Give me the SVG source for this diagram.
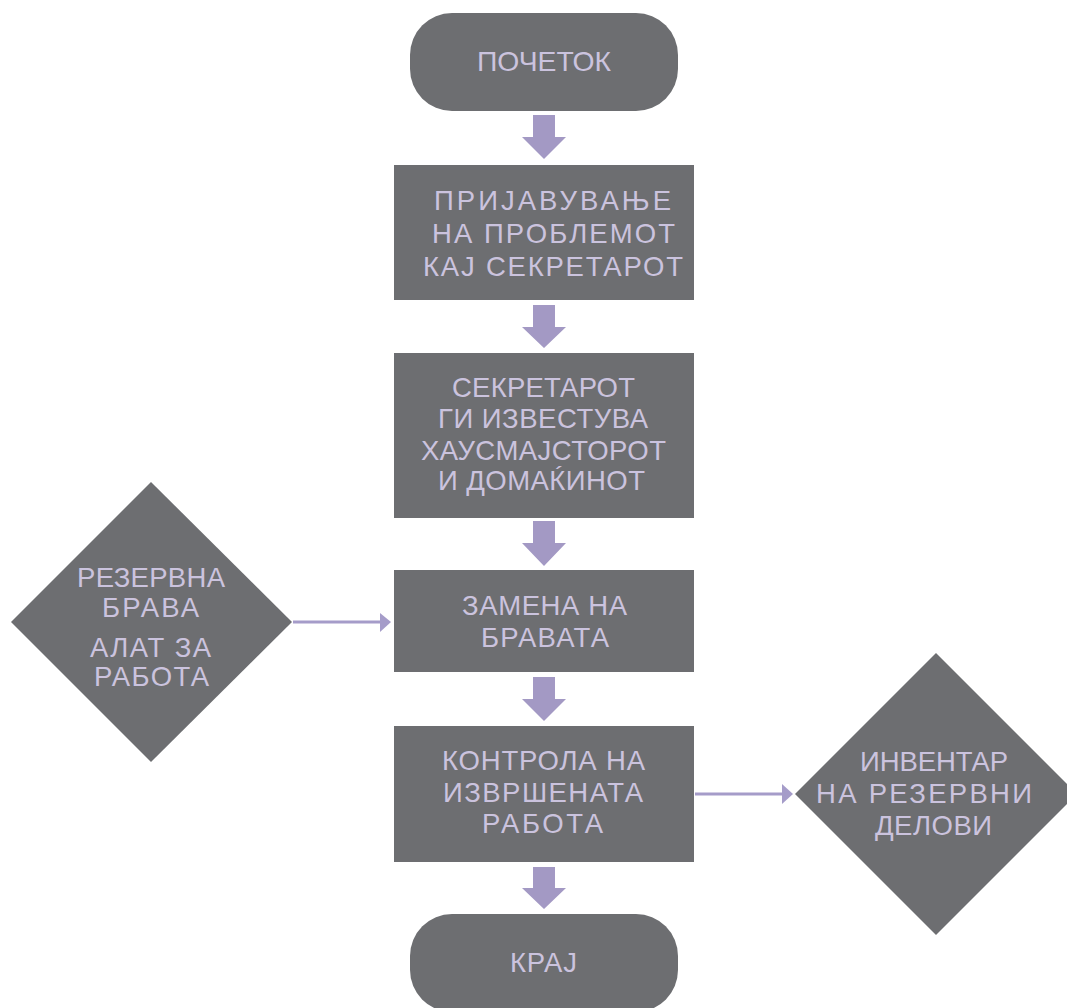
<svg xmlns="http://www.w3.org/2000/svg" width="1067" height="1008" viewBox="0 0 1067 1008">
<style>
.node{fill:#6d6e71}
.t{fill:#cbc3de;font-family:"Liberation Sans","Noto Sans",sans-serif;font-size:27.5px;text-anchor:middle}
.blk{fill:#a399c4}
.ln{stroke:#a59cc9;stroke-width:3;fill:none}
.hd{fill:#a59cc9}
</style>
<rect width="1067" height="1008" fill="#ffffff"/>
<g id="start">
<rect class="node" x="410" y="13" width="268" height="98" rx="42"/>
<text class="t" x="544" y="71" textLength="134" lengthAdjust="spacingAndGlyphs">ПОЧЕТОК</text>
</g>
<g id="report">
<rect class="node" x="394" y="165" width="300" height="135"/>
<text class="t" x="552.5" y="210" textLength="237" lengthAdjust="spacing">ПРИЈАВУВАЊЕ</text>
<text class="t" x="553.5" y="243" textLength="243" lengthAdjust="spacing">НА ПРОБЛЕМОТ</text>
<text class="t" x="553" y="276" textLength="260" lengthAdjust="spacing">КАЈ СЕКРЕТАРОТ</text>
</g>
<g id="notify">
<rect class="node" x="394" y="353" width="300" height="165"/>
<text class="t" x="543.5" y="397" textLength="183" lengthAdjust="spacing">СЕКРЕТАРОТ</text>
<text class="t" x="543" y="428" textLength="210" lengthAdjust="spacing">ГИ ИЗВЕСТУВА</text>
<text class="t" x="543.5" y="460" textLength="245" lengthAdjust="spacing">ХАУСМАЈСТОРОТ</text>
<text class="t" x="541.5" y="490" textLength="207" lengthAdjust="spacing">И ДОМАЌИНОТ</text>
</g>
<g id="replace">
<rect class="node" x="394" y="570" width="300" height="102"/>
<text class="t" x="544.5" y="615" textLength="165" lengthAdjust="spacing">ЗАМЕНА НА</text>
<text class="t" x="545" y="647" textLength="128" lengthAdjust="spacing">БРАВАТА</text>
</g>
<g id="control">
<rect class="node" x="394" y="726" width="300" height="136"/>
<text class="t" x="543.5" y="770" textLength="203" lengthAdjust="spacing">КОНТРОЛА НА</text>
<text class="t" x="543" y="802" textLength="200" lengthAdjust="spacing">ИЗВРШЕНАТА</text>
<text class="t" x="542.5" y="833" textLength="121" lengthAdjust="spacing">РАБОТА</text>
</g>
<g id="end">
<rect class="node" x="410" y="914" width="268" height="98" rx="42"/>
<text class="t" x="543.5" y="972" textLength="67" lengthAdjust="spacing">КРАЈ</text>
</g>
<g id="resources">
<polygon class="node" points="151,482 292,622 151,762 11,622"/>
<text class="t" x="151" y="587" textLength="148" lengthAdjust="spacing">РЕЗЕРВНА</text>
<text class="t" x="150.5" y="617" textLength="97" lengthAdjust="spacing">БРАВА</text>
<text class="t" x="150.5" y="657" textLength="121" lengthAdjust="spacing">АЛАТ ЗА</text>
<text class="t" x="151.5" y="686" textLength="115" lengthAdjust="spacing">РАБОТА</text>
</g>
<g id="inventory">
<polygon class="node" points="936,653 1077,794 936,935 795,794"/>
<text class="t" x="934" y="771" textLength="148" lengthAdjust="spacing">ИНВЕНТАР</text>
<text class="t" x="924" y="803" textLength="216" lengthAdjust="spacing">НА РЕЗЕРВНИ</text>
<text class="t" x="933.5" y="835" textLength="117" lengthAdjust="spacing">ДЕЛОВИ</text>
</g>
<g id="connectors">
<polygon class="blk" points="533,115 555,115 555,137 566,137 544,159 522,137 533,137"/>
<polygon class="blk" points="533,305 555,305 555,327 566,327 544,348 522,327 533,327"/>
<polygon class="blk" points="533,521 555,521 555,543 566,543 544,566 522,543 533,543"/>
<polygon class="blk" points="533,677 555,677 555,699 566,699 544,721 522,699 533,699"/>
<polygon class="blk" points="533,867 555,867 555,888 566,888 544,909 522,888 533,888"/>
<line class="ln" x1="293" y1="622" x2="381" y2="622"/>
<polygon class="hd" points="380,613 391,622 380,632"/>
<line class="ln" x1="695" y1="794" x2="783" y2="794"/>
<polygon class="hd" points="782,784 793,794 782,804"/>
</g>
</svg>
